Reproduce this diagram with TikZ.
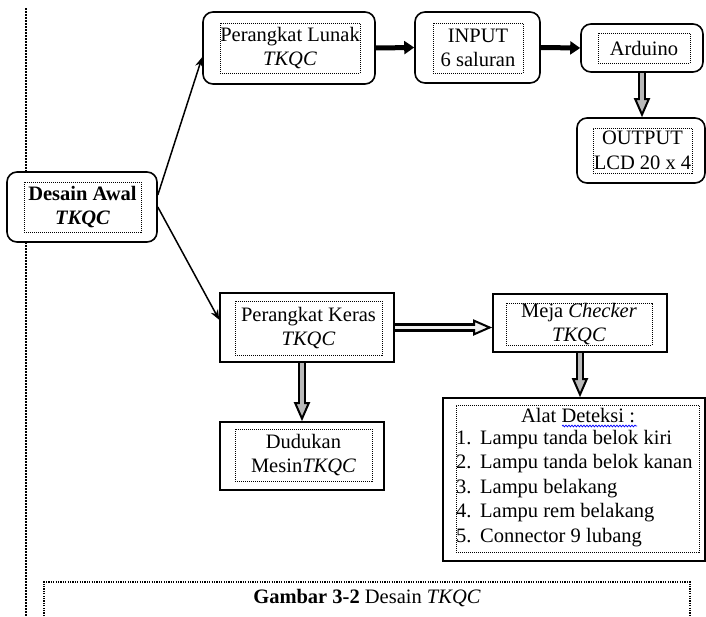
\documentclass[tikz,border=0pt]{standalone}
\usepackage{fontspec}
\setmainfont{Liberation Serif}
\usetikzlibrary{arrows.meta,decorations.pathmorphing}
\tikzset{>=stealth}
\tikzset{
  box/.style={draw=black,line width=1.6pt,fill=white,inner sep=0pt},
  rbox/.style={box,rounded corners=10pt},
  dots/.style={draw=black,line width=0.9pt,dash pattern=on 1pt off 1pt,inner sep=0pt,align=center},
  thin arrow/.style={line width=1.5pt,-{Stealth[length=10pt,width=8pt]}},
  solid arrow/.style={line width=5pt,-{Triangle[length=10pt,width=13pt]}},
  hollow/.style={line width=8.5pt,-{Triangle[length=19pt,width=16pt,line width=2pt,fill=#1]},
    postaction={draw=#1,line width=3.5pt,-,shorten >=16pt}},
}

\begin{document}
\begin{tikzpicture}[x=1pt,y=-1pt,every node/.append style={font=\fontsize{20.5}{24.5}\selectfont}]
    \useasboundingbox (0,0) rectangle (706,616);
    % garis titik di kiri
    \draw[line width=1.5pt,dash pattern=on 1.5pt off 1.5pt] (26,8) -- (26,616);
    % kotak atas
    \node[rbox,minimum width=150pt,minimum height=70pt] (desain) at (82,207) {};
    \node[dots,minimum width=117pt,minimum height=50pt] (desain-in) at (82.5,207) {\textbf{Desain Awal}\\\textbf{\textit{TKQC}}};
    \node[rbox,minimum width=172pt,minimum height=72pt] (lunak) at (289,48) {};
    \node[dots,minimum width=140pt,minimum height=50pt] (lunak-in) at (290,48) {Perangkat Lunak\\\textit{TKQC}};
    \node[rbox,minimum width=125pt,minimum height=71pt] (input) at (477.5,47.5) {};
    \node[dots,minimum width=90pt,minimum height=50pt] (input-in) at (478,48) {INPUT\\6 saluran};
    \node[rbox,minimum width=122pt,minimum height=48pt] (arduino) at (642,48) {};
    \node[dots,minimum width=92pt,minimum height=30pt] (arduino-in) at (644,48) {Arduino};
    \node[rbox,minimum width=128pt,minimum height=65pt] (output) at (641,150.5) {};
    \node[dots,minimum width=99pt,minimum height=45pt] (output-in) at (642.5,150.5) {OUTPUT\\LCD 20 x 4};
    % kotak bawah
    \node[box,minimum width=174pt,minimum height=69pt] (keras) at (307,327.5) {};
    \node[dots,minimum width=147pt,minimum height=54pt] (keras-in) at (308.5,328) {Perangkat Keras\\\textit{TKQC}};
    \node[box,minimum width=174pt,minimum height=58pt] (meja) at (580,323) {};
    \node[dots,minimum width=146pt,minimum height=42pt] (meja-in) at (579,324) {Meja \textit{Checker}\\\textit{TKQC}};
    \node[box,minimum width=164pt,minimum height=68pt] (dudukan) at (302,456) {};
    \node[dots,minimum width=137pt,minimum height=52pt] (dudukan-in) at (303.5,455) {Dudukan\\Mesin\textit{TKQC}};
    \node[box,minimum width=262pt,minimum height=163pt] (alat) at (574,479.5) {};
    \node[dots,minimum width=243pt,minimum height=147pt] (alat-in) at (577.5,478.5) {};
    \node[anchor=base,inner sep=0pt] (alat-head) at (578,422) {Alat Deteksi :};
    \draw[blue,line width=0.7pt,decorate,decoration={snake,amplitude=0.9pt,segment length=3pt}] (562,426) -- (637,426);
    \node[anchor=base west,inner sep=0pt] (alat-list) at (456,444) {\begin{tabular}[t]{@{}l@{\hspace{8.6pt}}l@{}}
      1. & Lampu tanda belok kiri\\
      2. & Lampu tanda belok kanan\\
      3. & Lampu belakang\\
      4. & Lampu rem belakang\\
      5. & Connector 9 lubang
    \end{tabular}};
    % panah
    \draw[thin arrow] (desain.9) -- (lunak.186);
    \draw[thin arrow] (desain.east) -- (keras.175);
    \draw[solid arrow] (lunak.east) -- (input.west);
    \draw[solid arrow] (input.east) -- (arduino.west);
    \draw[hollow=gray!55] (arduino.south) -- (arduino.south |- output.north);
    \draw[hollow=gray!12] (keras.east) -- (keras.east -| meja.west);
    \draw[hollow=gray!55] (keras.south -| dudukan.north) -- (dudukan.north);
    \draw[hollow=gray!55] (meja.south) -- (meja.south |- alat.north);
    % keterangan gambar
    \draw[line width=1.2pt,dash pattern=on 1.2pt off 1.2pt] (44,616) -- (44,582) -- (690,582) -- (690,616);
    \node[anchor=base] (caption) at (367,603) {\textbf{Gambar 3-2} Desain \textit{TKQC}};
  \end{tikzpicture}
\end{document}
